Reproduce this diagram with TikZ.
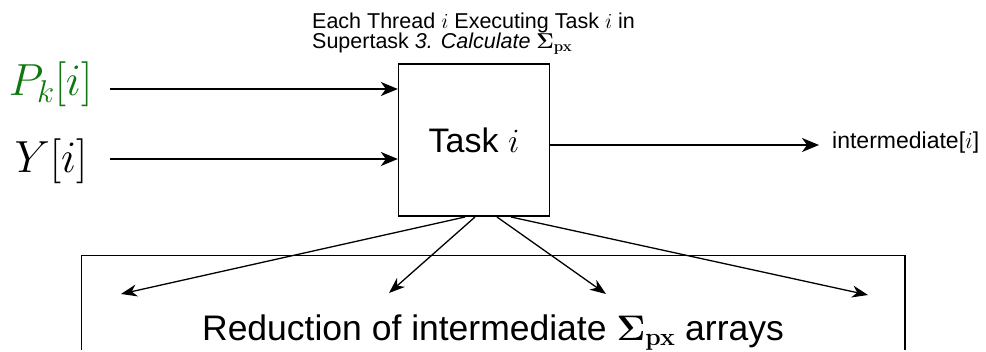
\RequirePackage{fix-cm}
\documentclass[tikz,border=0pt]{standalone}
\usepackage[no-math]{fontspec}
\usepackage{amsmath}
\setmainfont{Liberation Sans}
\usetikzlibrary{arrows.meta}
\definecolor{pgreen}{RGB}{16,118,16}
\tikzset{
  boxstyle/.style={draw=black, line width=1.3pt, fill=white},
  inarrow/.style={line width=1.8pt, -{Stealth[length=17pt,width=14pt,inset=5pt]}},
  diagarrow/.style={line width=1.3pt, -{Stealth[length=16pt,width=12pt,inset=5pt]}},
}
\begin{document}
\begin{tikzpicture}[x=1pt,y=-1pt]
\useasboundingbox (0,0) rectangle (986,351);
% bottom box
\draw[line width=1.1pt] (81.5,350) -- (81.5,255.7) -- (905,255.7) -- (905,350);
\node[anchor=base, inner sep=0pt, font=\fontsize{35.5}{40}\selectfont] (red) at (493,340) {Reduction of intermediate $\mathbf{\Sigma}_{\mathbf{px}}$ arrays};
% task box
\node[boxstyle, minimum width=151pt, minimum height=152pt, inner sep=0pt, font=\fontsize{34}{38}\selectfont] (task) at (474,140) {Task $i$};
% top label
\node[anchor=base west, inner sep=0pt, font=\fontsize{21.5}{24}\selectfont] (lbla) at (312,28) {Each Thread $i$ Executing Task $i$ in};
\node[anchor=base west, inner sep=0pt, font=\fontsize{21.5}{24}\selectfont] (lblb) at (312,48) {Supertask \textit{3. Calculate} $\mathbf{\Sigma}_{\mathbf{px}}$};
% inputs
\node[inner sep=0pt, text=pgreen, font=\fontsize{45}{50}\selectfont] (pk) at (50.5,84) {$P_k[i]$};
\node[inner sep=0pt, font=\fontsize{45}{50}\selectfont] (y) at (51,161) {$Y[i]$};
\coordinate (pks) at (110,89);
\coordinate (ys) at (110,159);
\draw[inarrow] (pks) -- (pks -| task.west);
\draw[inarrow] (ys) -- (ys -| task.west);
% output
\node[anchor=base west, inner sep=0pt, font=\fontsize{23}{26}\selectfont] (out) at (832,148) {intermediate[$i$]};
\draw[inarrow] (task.east |- 0,145) -- (819,145);
% diagonal arrows
\coordinate (s1) at (465,217);
\coordinate (s2) at (475,217);
\coordinate (s3) at (497,217);
\coordinate (s4) at (511,217);
\coordinate (e1) at (121,294);
\coordinate (e2) at (389,293);
\coordinate (e3) at (606,294);
\coordinate (e4) at (868,295);
\draw[diagarrow] (s1) -- (e1);
\draw[diagarrow] (s2) -- (e2);
\draw[diagarrow] (s3) -- (e3);
\draw[diagarrow] (s4) -- (e4);
\end{tikzpicture}
\end{document}
